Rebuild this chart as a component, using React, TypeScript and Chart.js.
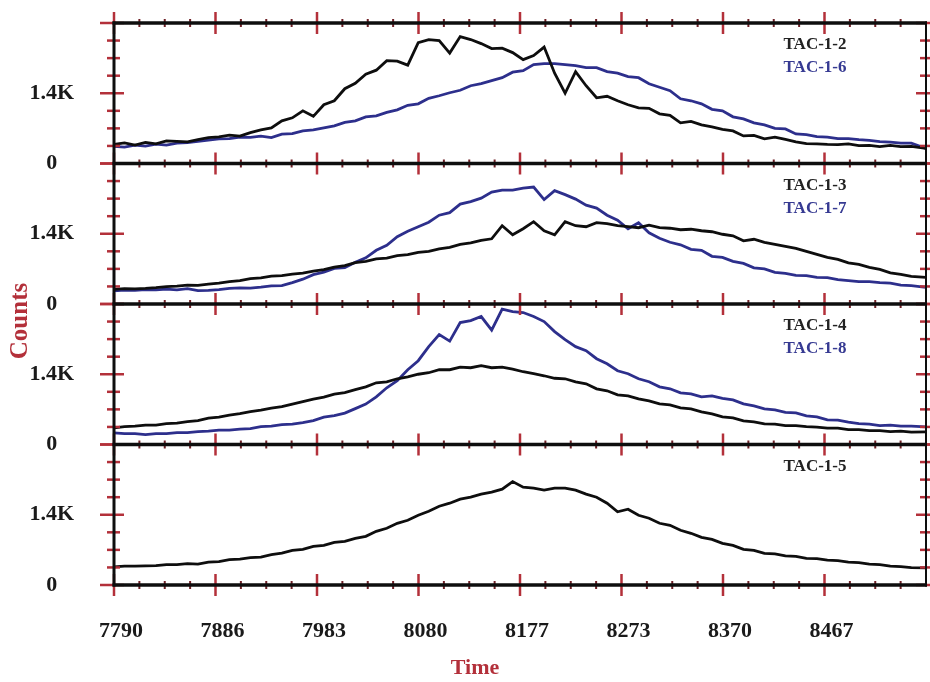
import React, { useEffect, useRef } from 'react';
import { Chart, registerables } from 'chart.js';

Chart.register(...registerables);

// ---- data ----
const timeValues = [
  7790, 7800, 7810, 7820, 7830, 7840, 7850, 7860, 7870, 7880,
  7890, 7900, 7910, 7920, 7930, 7940, 7950, 7960, 7970, 7980,
  7990, 8000, 8010, 8020, 8030, 8040, 8050, 8060, 8070, 8080,
  8090, 8100, 8110, 8120, 8130, 8140, 8150, 8160, 8170, 8180,
  8190, 8200, 8210, 8220, 8230, 8240, 8250, 8260, 8270, 8280,
  8290, 8300, 8310, 8320, 8330, 8340, 8350, 8360, 8370, 8380,
  8390, 8400, 8410, 8420, 8430, 8440, 8450, 8460, 8470, 8480,
  8490, 8500, 8510, 8520, 8530, 8540, 8550, 8564,
];

const tac12 = [
  380, 410, 365, 420, 390, 450, 440, 430, 475, 515,
  530, 565, 545, 615, 670, 710, 850, 910, 1050, 940,
  1170, 1250, 1490, 1600, 1780, 1860, 2050, 2040, 1960, 2410,
  2470, 2450, 2200, 2530, 2470, 2390, 2290, 2300, 2210, 2070,
  2150, 2320, 1800, 1400, 1830, 1550, 1310, 1340, 1250, 1170,
  1110, 1100, 990, 960, 810, 840, 770, 730, 680, 650,
  550, 560, 490, 525, 480, 430, 395, 390, 380, 375,
  390, 355, 360, 335, 360, 335, 340, 300,
];

const tac16 = [
  340, 325, 365, 345, 385, 365, 405, 415, 440, 465,
  490, 495, 525, 520, 545, 515, 585, 595, 650, 670,
  710, 750, 820, 850, 930, 950, 1020, 1070, 1160, 1190,
  1300, 1350, 1410, 1460, 1550, 1590, 1650, 1710, 1820, 1850,
  1970, 1990, 1990, 1970, 1950, 1910, 1910, 1830, 1800, 1730,
  1710, 1590, 1520, 1450, 1290, 1250, 1190, 1080, 1050, 930,
  890, 810, 770, 700, 690, 590, 575, 535, 525, 495,
  495, 475, 460, 435, 425, 405, 405, 300,
];

const tac13 = [
  290, 305, 300, 310, 325, 345, 355, 375, 370, 395,
  415, 445, 465, 505, 520, 555, 565, 595, 615, 655,
  685, 735, 765, 825, 850, 900, 915, 965, 985, 1030,
  1050, 1100, 1130, 1190, 1220, 1270, 1300, 1560, 1380, 1500,
  1640, 1460, 1380, 1640, 1560, 1540, 1620, 1600, 1560, 1540,
  1520, 1570, 1520, 1510, 1480, 1490, 1460, 1440, 1390, 1360,
  1260, 1290, 1230, 1190, 1150, 1110, 1050, 990, 930, 890,
  820, 790, 730, 690, 620, 590, 550, 530,
];

const tac17 = [
  260, 275, 270, 285, 280, 295, 280, 305, 265, 270,
  285, 310, 320, 315, 335, 360, 365, 425, 495, 585,
  635, 710, 725, 830, 920, 1070, 1170, 1340, 1450, 1540,
  1630, 1770, 1820, 1990, 2040, 2110, 2230, 2270, 2270, 2310,
  2330, 2080, 2260, 2180, 2090, 1970, 1910, 1770, 1670, 1500,
  1620, 1420, 1310, 1230, 1180, 1090, 1070, 950, 930, 850,
  810, 720, 700, 630, 610, 570, 565, 530, 525, 485,
  465, 445, 445, 425, 415, 375, 365, 330,
];

const tac14 = [
  330, 355, 365, 385, 385, 415, 425, 455, 475, 525,
  545, 585, 615, 655, 685, 725, 755, 805, 855, 905,
  945, 1005, 1035, 1095, 1150, 1230, 1250, 1310, 1350, 1400,
  1430, 1490, 1490, 1540, 1530, 1570, 1530, 1540, 1500, 1450,
  1410, 1370, 1320, 1310, 1250, 1210, 1110, 1070, 990, 970,
  910, 870, 810, 790, 730, 710, 650, 610, 550, 530,
  470, 450, 410, 405, 375, 375, 355, 345, 325, 325,
  295, 295, 275, 275, 255, 265, 245, 250,
];

const tac18 = [
  230, 215, 215, 195, 215, 215, 235, 235, 255, 265,
  285, 285, 305, 315, 355, 365, 395, 405, 435, 475,
  545, 575, 625, 715, 805, 950, 1130, 1270, 1490, 1670,
  1950, 2190, 2060, 2430, 2470, 2550, 2280, 2700, 2650, 2630,
  2550, 2450, 2250, 2090, 1950, 1870, 1710, 1610, 1470, 1410,
  1310, 1250, 1150, 1110, 1030, 1010, 950, 970, 920, 890,
  810, 770, 710, 690, 640, 630, 570, 550, 490, 485,
  445, 415, 405, 375, 385, 365, 365, 350,
];

const tac15 = [
  360, 375, 375, 380, 385, 405, 405, 425, 415, 455,
  465, 505, 515, 545, 555, 605, 635, 690, 710, 770,
  790, 850, 870, 930, 970, 1070, 1130, 1230, 1290, 1390,
  1470, 1570, 1630, 1710, 1750, 1810, 1850, 1910, 2060, 1950,
  1930, 1890, 1930, 1930, 1890, 1810, 1750, 1630, 1460, 1510,
  1390, 1330, 1230, 1190, 1090, 1030, 950, 910, 830, 790,
  710, 690, 630, 620, 580, 570, 530, 525, 495, 485,
  455, 445, 415, 405, 375, 365, 345, 340,
];

const xTickLabels = ['7790', '7886', '7983', '8080', '8177', '8273', '8370', '8467'];
const xMin = 7790;
const xMax = 8564;
const yMax = 2800;
const yMinorStep = 350;
const yLabelMap: Record<number, string> = { 0: '0', 1400: '1.4K' };
const panelIds = ['y1', 'y2', 'y3', 'y4'];
const xTitle = 'Time';
const yTitle = 'Counts';

const BLACK = '#0e0e0e';
const BLUE = '#2d2f8c';
const RED = '#b3303a';
const MINOR = '#6e1f25';
const FONT = "'Liberation Serif', 'Times New Roman', serif";

const seriesList = [
  { label: 'TAC-1-2', data: tac12, panel: 'y1', color: BLACK },
  { label: 'TAC-1-6', data: tac16, panel: 'y1', color: BLUE },
  { label: 'TAC-1-3', data: tac13, panel: 'y2', color: BLACK },
  { label: 'TAC-1-7', data: tac17, panel: 'y2', color: BLUE },
  { label: 'TAC-1-4', data: tac14, panel: 'y3', color: BLACK },
  { label: 'TAC-1-8', data: tac18, panel: 'y3', color: BLUE },
  { label: 'TAC-1-5', data: tac15, panel: 'y4', color: BLACK },
];

const framePlugin = {
  id: 'panelFrame',
  afterDatasetsDraw(chart: any) {
    const { ctx, chartArea } = chart;
    const xs = chart.scales.x;
    const panels = panelIds.map((id) => chart.scales[id]);
    const left = chartArea.left;
    const right = chartArea.right;
    const bounds = [panels[0].top, ...panels.map((p: any) => p.bottom)];
    const line = (x1: number, y1: number, x2: number, y2: number) => {
      ctx.beginPath();
      ctx.moveTo(x1, y1);
      ctx.lineTo(x2, y2);
      ctx.stroke();
    };
    ctx.save();
    ctx.lineCap = 'butt';
    const majorStep = (xMax - xMin) / 8;
    const minorStep = majorStep / 4;
    bounds.forEach((b: number) => {
      for (let k = 0; k < 32; k++) {
        const px = xs.getPixelForValue(xMin + k * minorStep);
        const major = k % 4 === 0;
        ctx.strokeStyle = major ? RED : MINOR;
        ctx.lineWidth = major ? 2.5 : 2;
        const len = major ? 11 : 4;
        line(px, b - len, px, b + len);
      }
    });
    panels.forEach((p: any) => {
      for (let v = 0; v <= yMax; v += yMinorStep) {
        const py = p.getPixelForValue(v);
        const major = v % 1400 === 0;
        ctx.strokeStyle = RED;
        ctx.lineWidth = 2.5;
        if (major) {
          line(left - 14, py, left + 10, py);
          line(right - 10, py, right + 5, py);
        } else {
          line(left - 7, py, left + 6, py);
          line(right - 6, py, right + 4, py);
        }
      }
    });
    ctx.strokeStyle = BLACK;
    ctx.lineWidth = 3.5;
    bounds.forEach((b: number) => line(left - 1.5, b, right + 1, b));
    ctx.lineWidth = 3;
    line(left, bounds[0] - 1.5, left, bounds[4] + 1.5);
    ctx.lineWidth = 2;
    line(right, bounds[0] - 1.5, right, bounds[4] + 1.5);

    // per-panel legend labels
    ctx.font = `bold 17px ${FONT}`;
    ctx.textAlign = 'center';
    ctx.textBaseline = 'middle';
    panels.forEach((p: any, i: number) => {
      const items = chart.data.datasets.filter((d: any) => d.yAxisID === panelIds[i]);
      items.forEach((d: any, j: number) => {
        ctx.fillStyle = d.borderColor === BLUE ? '#363a92' : '#222';
        ctx.fillText(d.label, 815, p.top + 22 + j * 23);
      });
    });

    // axis titles
    ctx.fillStyle = RED;
    ctx.font = `bold 22px ${FONT}`;
    ctx.fillText(xTitle, 475, 668);
    ctx.save();
    ctx.translate(21, 321);
    ctx.rotate(-Math.PI / 2);
    ctx.font = `bold 25px ${FONT}`;
    ctx.fillText(yTitle, 0, 0);
    ctx.restore();
    ctx.restore();
  },
};

export default function App() {
  const canvasRef = useRef<HTMLCanvasElement | null>(null);

  useEffect(() => {
    if (!canvasRef.current) return;
    const yScale = (weight: number) => ({
      type: 'linear',
      position: 'left',
      stack: 'panels',
      stackWeight: 1,
      weight,
      min: 0,
      max: yMax,
      grid: { display: false },
      border: { display: false },
      ticks: {
        stepSize: 1400,
        color: '#1a1a1a',
        font: { family: FONT, size: 22, weight: 'bold' },
        padding: 32,
        crossAlign: 'center',
        callback: (v: number) => yLabelMap[v] ?? '',
      },
      afterFit: (s: any) => {
        s.width = 114;
        s.paddingTop = 0;
        s.paddingBottom = 0;
      },
    });

    const chart = new Chart(canvasRef.current, {
      type: 'line',
      data: {
        datasets: seriesList.map((s) => ({
          label: s.label,
          data: timeValues.map((t, i) => ({ x: t, y: s.data[i] })),
          yAxisID: s.panel,
          xAxisID: 'x',
          borderColor: s.color,
          backgroundColor: s.color,
          borderWidth: 2.8,
          pointRadius: 0,
          tension: 0,
          fill: false,
        })),
      },
      options: {
        animation: false,
        responsive: false,
        devicePixelRatio: 1,
        events: [],
        layout: { padding: { top: 23, right: 4, left: 0, bottom: 0 } },
        plugins: { legend: { display: false }, tooltip: { enabled: false } },
        scales: {
          x: {
            type: 'linear',
            position: 'bottom',
            min: xMin,
            max: xMax,
            grid: { display: false },
            border: { display: false },
            afterBuildTicks: (s: any) => {
              s.ticks = xTickLabels.map((_, i) => ({ value: xMin + (i * (xMax - xMin)) / 8 }));
            },
            afterFit: (s: any) => {
              s.height = 97;
              s.paddingLeft = 0;
              s.paddingRight = 0;
            },
            ticks: {
              autoSkip: false,
              maxRotation: 0,
              padding: 25,
              labelOffset: 7,
              color: '#1a1a1a',
              font: { family: FONT, size: 22, weight: 'bold' },
              callback: (_v: number, i: number) => xTickLabels[i],
            },
          },
          y4: yScale(1),
          y3: yScale(2),
          y2: yScale(3),
          y1: yScale(4),
        } as any,
      },
      plugins: [framePlugin],
    } as any);
    return () => chart.destroy();
  }, []);

  return (
    <div style={{ position: 'fixed', left: 0, top: 0, width: 930, height: 682, background: '#fff' }}>
      <canvas ref={canvasRef} width={930} height={682} style={{ display: 'block' }} />
    </div>
  );
}
